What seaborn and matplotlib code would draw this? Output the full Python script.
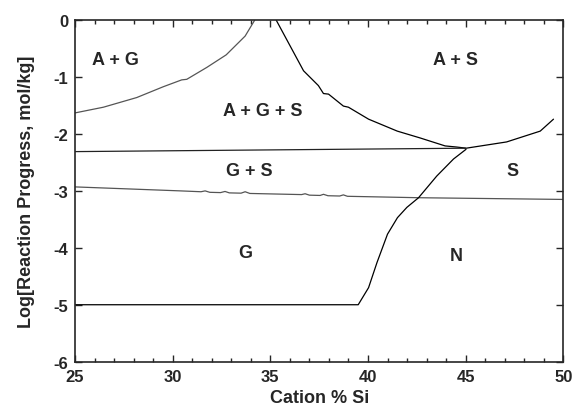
import numpy as np
import pandas as pd
import matplotlib
matplotlib.use("Agg")
from matplotlib import pyplot as plt
from matplotlib.ticker import MultipleLocator
import seaborn as sns

# boundary curves (x = cation % Si, y = log reaction progress)
ag_x = [25.0, 26.45, 28.16, 29.52, 30.46, 30.72, 31.75, 32.74, 33.71, 34.2]
ag_y = [-1.63, -1.53, -1.36, -1.17, -1.05, -1.04, -0.83, -0.61, -0.28, 0.0]

as_x = [35.3, 36.7, 37.46, 37.72, 37.98, 38.74, 39.0, 40.03, 41.5, 42.67,
        43.95, 44.55, 45.03, 47.1, 48.82, 49.5]
as_y = [0.0, -0.89, -1.15, -1.29, -1.30, -1.51, -1.53, -1.74, -1.95, -2.07,
        -2.21, -2.23, -2.25, -2.14, -1.95, -1.74]

gs_top_x = [25.0, 45.0]
gs_top_y = [-2.31, -2.25]

gs_bot_x = [25.0, 30.4, 31.45, 31.66, 31.9, 32.45, 32.68, 32.9, 33.5, 33.71, 33.95,
            36.6, 36.78, 37.0, 37.55, 37.72, 37.95, 38.55, 38.74, 38.95, 42.6, 50.0]
gs_bot_y = [-2.93, -3.0, -3.015, -3.0, -3.025, -3.03, -3.01, -3.035, -3.04, -3.015, -3.045,
            -3.065, -3.05, -3.075, -3.08, -3.06, -3.085, -3.09, -3.07, -3.095, -3.12, -3.15]

n_x = [25.0, 39.5, 40.03, 40.46, 41.0, 41.51, 41.99, 42.59, 43.52, 44.38, 45.02]
n_y = [-5.0, -5.0, -4.70, -4.26, -3.76, -3.47, -3.29, -3.12, -2.74, -2.44, -2.27]

field_labels = ["A + G", "A + G + S", "A + S", "G + S", "S", "G", "N"]
field_x = [27.05, 34.6, 44.5, 33.9, 47.4, 33.7, 44.5]
field_y = [-0.69, -1.58, -0.69, -2.65, -2.65, -4.08, -4.13]

sns.set_style("ticks")
plt.rcParams['font.family'] = ['Liberation Sans', 'DejaVu Sans']
plt.rcParams['font.weight'] = 'bold'
plt.rcParams['axes.unicode_minus'] = False

fig, ax = plt.subplots(figsize=(5.73, 4.14), dpi=100)
fig.subplots_adjust(left=0.131, right=0.983, top=0.949, bottom=0.124)

curves = [(ag_x, ag_y, '#555555'), (as_x, as_y, 'black'), (gs_top_x, gs_top_y, '#222222'),
          (gs_bot_x, gs_bot_y, '#555555'), (n_x, n_y, 'black')]
for cx, cy, col in curves:
    df = pd.DataFrame({'x': cx, 'y': cy})
    sns.lineplot(data=df, x='x', y='y', sort=False, estimator=None, color=col,
                 linewidth=0.9, ax=ax)

for lab, lx, ly in zip(field_labels, field_x, field_y):
    ax.text(lx, ly, lab, ha='center', va='center', fontsize=13, fontweight='bold')

ax.set_xlim(25, 50)
ax.set_ylim(-6, 0)
ax.xaxis.set_major_locator(MultipleLocator(5))
ax.xaxis.set_minor_locator(MultipleLocator(1))
ax.yaxis.set_major_locator(MultipleLocator(1))
ax.tick_params(which='both', direction='in', top=True, right=True, labelsize=12, width=1)
ax.tick_params(which='major', length=5, pad=5)
ax.tick_params(which='minor', length=3)
for lbl in ax.get_xticklabels() + ax.get_yticklabels():
    lbl.set_fontweight('bold')
for sp in ax.spines.values():
    sp.set_linewidth(1.2)
ax.set_xlabel('Cation % Si', fontsize=13, fontweight='bold', labelpad=4)
ax.set_ylabel('Log[Reaction Progress, mol/kg]', fontsize=13, fontweight='bold', labelpad=13)

plt.savefig('out.png', dpi=100)
